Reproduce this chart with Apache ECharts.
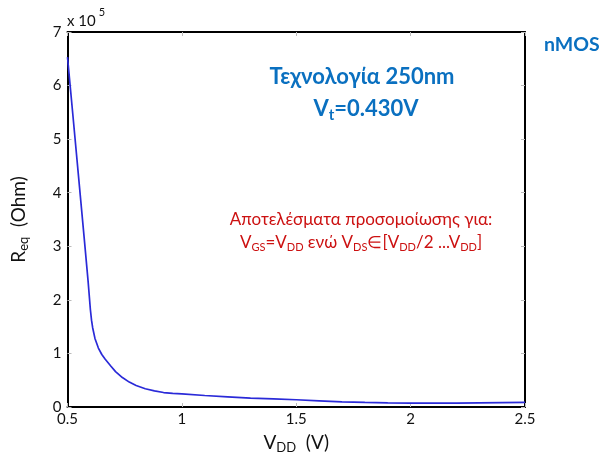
<!DOCTYPE html>
<html>
<head>
<meta charset="utf-8">
<script src="https://cdn.jsdelivr.net/npm/echarts@6/dist/echarts.min.js"></script>
<style>
    html, body { margin: 0; padding: 0; background: #fff; }
    #req { width: 606px; height: 459px; }
</style>
</head>
<body>
<div id="req"></div>
<script>
// V_DD (V)
var vdd = [0.5, 0.525, 0.55, 0.575, 0.59, 0.6, 0.605, 0.61, 0.62, 0.635, 0.65, 0.665, 0.69, 0.71, 0.74, 0.77, 0.8,
    0.84, 0.88, 0.92, 0.96, 1.0, 1.1, 1.2, 1.3, 1.4, 1.5, 1.6, 1.7, 1.8, 1.9, 2.0, 2.1, 2.2, 2.3, 2.4, 2.5];
// R_eq (Ohm)
var req = [653000, 538000, 422000, 306000, 235000, 182000, 162000, 148000, 128000, 110000, 98000, 89000, 76000, 66000,
    55000, 46500, 40000, 34000, 30000, 27000, 25500, 24500, 21500, 19000, 16500, 15000, 13500, 11500, 9500,
    8500, 7800, 7400, 7200, 7400, 7800, 8200, 8600];
var xTicks = [0.5, 1, 1.5, 2, 2.5];
var yTicks = [0, 1, 2, 3, 4, 5, 6, 7];

var FONT = 'Lato, "Open Sans", sans-serif';
var BLUE = '#0a70c0';
var RED = '#cc1111';

var chart = echarts.init(document.getElementById('req'));

var points = [];
for (var i = 0; i < vdd.length; i++) {
    points.push([vdd[i], req[i]]);
}

var innerTick = {
    show: true,
    inside: true,
    length: 4,
    lineStyle: { color: '#bbbbbb', width: 1 }
};
var boxLine = {
    show: true,
    onZero: false,
    lineStyle: { color: '#000', width: 2 }
};

var option = {
    animation: false,
    textStyle: { fontFamily: FONT },
    grid: {
        left: 67.5,
        right: 81,
        top: 32,
        bottom: 51
    },
    xAxis: [{
        type: 'value',
        min: xTicks[0],
        max: xTicks[xTicks.length - 1],
        interval: 0.5,
        axisLine: boxLine,
        axisTick: innerTick,
        splitLine: { show: false },
        axisLabel: {
            color: '#111',
            fontSize: 15,
            fontFamily: FONT,
            margin: 5
        },
        name: '{n|V}{s|DD}{n|  (V)}',
        nameLocation: 'middle',
        nameGap: 24,
        nameTextStyle: {
            rich: {
                n: { fontSize: 19, color: '#111', fontFamily: FONT },
                s: { fontSize: 13, color: '#111', fontFamily: FONT, padding: [10, 0, 0, 0] }
            }
        }
    }, {
        type: 'value',
        position: 'top',
        min: xTicks[0],
        max: xTicks[xTicks.length - 1],
        interval: 0.5,
        axisLine: boxLine,
        axisTick: innerTick,
        axisLabel: { show: false },
        splitLine: { show: false }
    }],
    yAxis: [{
        type: 'value',
        min: yTicks[0] * 1e5,
        max: yTicks[yTicks.length - 1] * 1e5,
        interval: 1e5,
        axisLine: boxLine,
        axisTick: innerTick,
        splitLine: { show: false },
        axisLabel: {
            color: '#111',
            fontSize: 15,
            fontFamily: FONT,
            margin: 6,
            formatter: function (v) { return String(Math.round(v / 1e5)); }
        },
        name: '{n|R}{s|eq}{n|  (Ohm)}',
        nameLocation: 'middle',
        nameGap: 37,
        nameTextStyle: {
            rich: {
                n: { fontSize: 19, color: '#111', fontFamily: FONT },
                s: { fontSize: 13, color: '#111', fontFamily: FONT, padding: [10, 0, 0, 0] }
            }
        }
    }, {
        type: 'value',
        position: 'right',
        min: yTicks[0] * 1e5,
        max: yTicks[yTicks.length - 1] * 1e5,
        interval: 1e5,
        axisLine: boxLine,
        axisTick: innerTick,
        axisLabel: { show: false },
        splitLine: { show: false }
    }],
    series: [{
        type: 'line',
        data: points,
        showSymbol: false,
        smooth: false,
        lineStyle: { color: '#2a2ad8', width: 1.7 }
    }],
    graphic: [
        {
            type: 'text',
            x: 67,
            y: 21,
            style: {
                text: '{a|x 10}{b|5}',
                verticalAlign: 'middle',
                rich: {
                    a: { fontSize: 15, fill: '#111', fontFamily: FONT },
                    b: { fontSize: 11, fill: '#111', fontFamily: FONT, padding: [0, 0, 18, 3] }
                }
            }
        },
        {
            type: 'text',
            x: 544,
            y: 45,
            style: {
                text: 'nMOS',
                font: 'bold 19.5px ' + FONT,
                fill: BLUE,
                verticalAlign: 'middle'
            }
        },
        {
            type: 'text',
            x: 362,
            y: 77,
            style: {
                text: 'Τεχνολογία 250nm',
                font: 'bold 22px ' + FONT,
                fill: BLUE,
                align: 'center',
                verticalAlign: 'middle'
            }
        },
        {
            type: 'text',
            x: 366,
            y: 109,
            style: {
                text: '{a|V}{b|t}{a|=0.430V}',
                align: 'center',
                verticalAlign: 'middle',
                rich: {
                    a: { fontSize: 22, fontWeight: 'bold', fill: BLUE, fontFamily: FONT },
                    b: { fontSize: 15, fontWeight: 'bold', fill: BLUE, fontFamily: FONT, padding: [12, 0, 0, 0] }
                }
            }
        },
        {
            type: 'text',
            x: 361,
            y: 220,
            style: {
                text: 'Αποτελέσματα προσομοίωσης για:',
                font: '17px ' + FONT,
                fill: RED,
                align: 'center',
                verticalAlign: 'middle'
            }
        },
        {
            type: 'text',
            x: 361,
            y: 243,
            style: {
                text: '{a|V}{b|GS}{a|=V}{b|DD}{a| ενώ V}{b|DS}{a|∈[V}{b|DD}{a|/2 ...V}{b|DD}{a|]}',
                align: 'center',
                verticalAlign: 'middle',
                rich: {
                    a: { fontSize: 17, fill: RED, fontFamily: FONT },
                    b: { fontSize: 11, fill: RED, fontFamily: FONT, padding: [9, 0, 0, 0] }
                }
            }
        }
    ]
};

chart.setOption(option);
</script>
</body>
</html>
